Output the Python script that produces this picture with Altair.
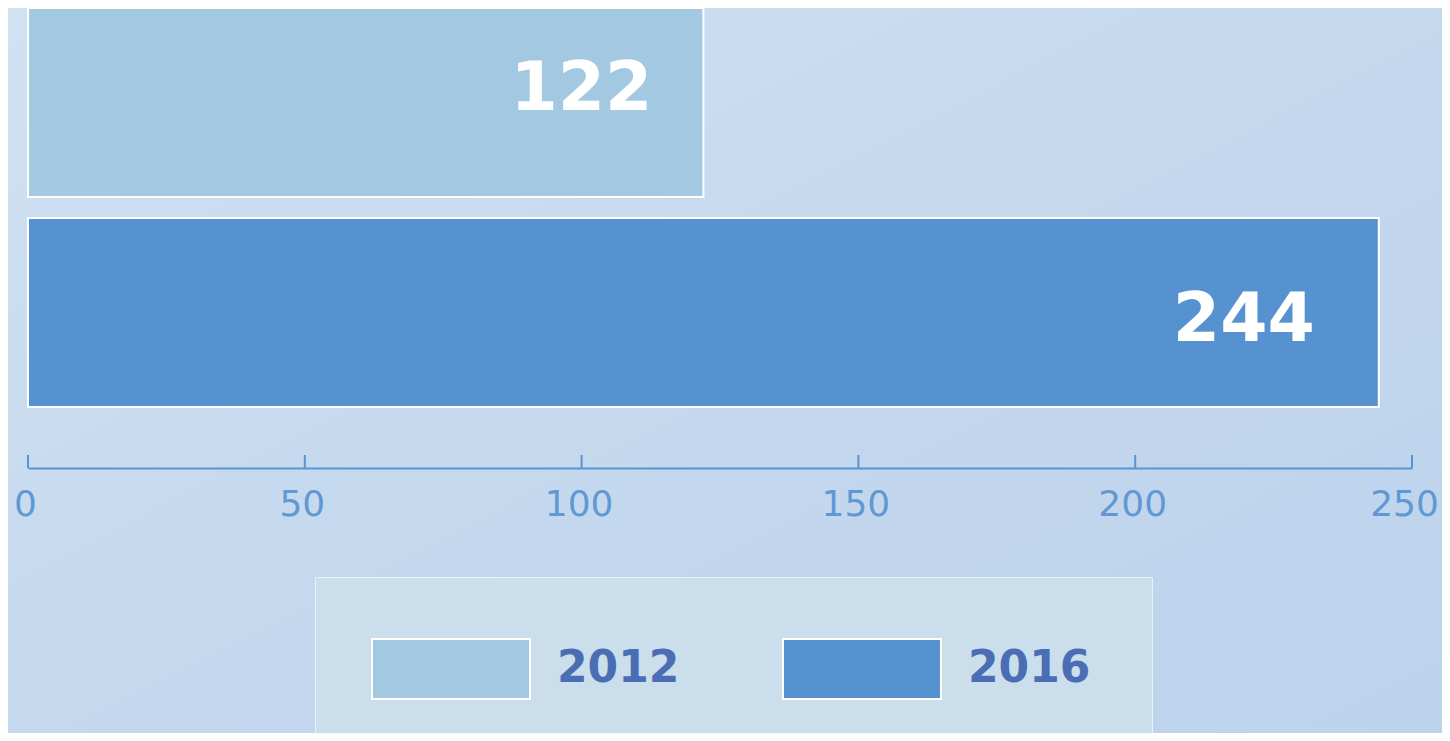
import altair as alt
import pandas as pd

years = ["2012", "2016"]
values = [122, 244]
colors = ["#a2c9e1", "#5592cf"]
tick_values = [0, 50, 100, 150, 200, 250]

df = pd.DataFrame({"year": years, "value": values})
ticks_df = pd.DataFrame({"t": tick_values})

AXIS_COLOR = "#5b93d1"

x_scale = alt.Scale(domain=[0, 250], nice=False, zero=True)
y_scale = alt.Scale(domain=years, paddingInner=0.1, paddingOuter=0)
color_scale = alt.Scale(domain=years, range=colors)

x_axis = alt.Axis(
    values=tick_values, title=None, grid=False, ticks=False, tickSize=0,
    domainColor=AXIS_COLOR, domainWidth=2, labelColor=AXIS_COLOR,
    labelFont="DejaVu Sans", labelFontSize=36, labelFontWeight="normal",
    labelPadding=19, offset=61, labelFlush=False, labelOverlap=False,
    labelOffset={"condition": {"test": "datum.value == 250", "value": -8}, "value": -3},
    labelOpacity=0.95, zindex=1,
)

# symbol: 60px nominal size, path stretched to 158px wide and shifted right
legend = alt.Legend(
    title=None, orient="none", legendX=287, legendY=569,
    direction="horizontal", columns=2,
    symbolType="M-1.167,-1H4.1V1H-1.167Z", symbolSize=3600,
    symbolStrokeColor="white", symbolStrokeWidth=2, symbolOpacity=1,
    labelFont="DejaVu Sans", labelFontWeight="bold", labelFontSize=44,
    labelColor="#4a6db4", labelOffset=119, columnPadding=98, padding=61,
    fillColor="#cbdeec", strokeColor="#e8f0f8", cornerRadius=0, labelLimit=400,
    zindex=1,
)

bg = alt.Chart(alt.Data(values=[{"a": 1}])).mark_rect(
    color=alt.LinearGradient(
        gradient="linear",
        stops=[alt.GradientStop(color="#d0e1f2", offset=0),
               alt.GradientStop(color="#c4d8ee", offset=0.5),
               alt.GradientStop(color="#bcd3ec", offset=1)],
        x1=0, y1=0, x2=1, y2=1,
    )
).encode(x=alt.value(-20), x2=alt.value(1414), y=alt.value(0), y2=alt.value(725))

base = alt.Chart(df)

bars = base.mark_bar(stroke="white", strokeWidth=2, opacity=1).encode(
    x=alt.X("value:Q", scale=x_scale, axis=x_axis),
    y=alt.Y("year:N", scale=y_scale, axis=None),
    color=alt.Color("year:N", scale=color_scale, legend=legend),
)

def value_label(year, dx, dy):
    return base.transform_filter(alt.datum.year == year).mark_text(
        align="right", baseline="middle", dx=dx, dy=dy,
        font="DejaVu Sans", fontWeight="bold", fontSize=68, color="white",
    ).encode(
        x=alt.X("value:Q", scale=x_scale, axis=x_axis),
        y=alt.Y("year:N", scale=y_scale, axis=None),
        text="value:Q",
    )

lab1 = value_label("2012", -51, -13)
lab2 = value_label("2016", -64, 8)

tick_rules = alt.Chart(ticks_df).mark_rule(color=AXIS_COLOR, strokeWidth=2).encode(
    x=alt.X("t:Q", scale=x_scale, axis=x_axis),
    y=alt.value(447),
    y2=alt.value(460),
)

chart = alt.layer(bg, bars, lab1, lab2, tick_rules).properties(
    width=1384, height=399,
    padding={"left": 20, "top": 0, "right": 30, "bottom": 326},
    autosize=alt.AutoSizeParams(type="none"),
    background="#c8dcef",
).configure_view(stroke=None)

chart.save("out.html", embed_options={"renderer": "svg", "actions": False})
